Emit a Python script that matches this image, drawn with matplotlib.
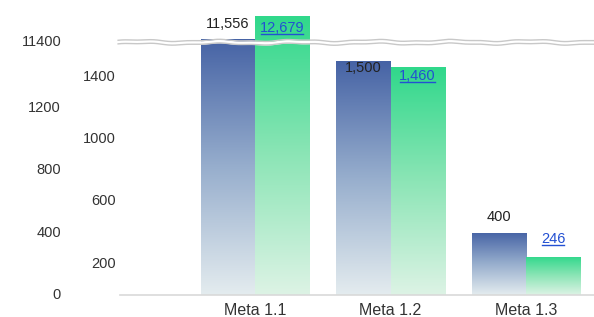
import numpy as np
import matplotlib
matplotlib.use("Agg")
import matplotlib.pyplot as plt
from matplotlib.colors import LinearSegmentedColormap
from matplotlib.lines import Line2D

plt.rcParams['font.family'] = ['Liberation Sans', 'DejaVu Sans']

categories = ["Meta 1.1", "Meta 1.2", "Meta 1.3"]
series_a = [11556, 1500, 400]
series_b = [12679, 1460, 246]
labels_a = ["11,556", "1,500", "400"]
labels_b = ["12,679", "1,460", "246"]
low_ticks = [0, 200, 400, 600, 800, 1000, 1200, 1400]
high_ticks = [11400]

# broken axis: linear up to 1600, squeezed gap, compressed above 11400
xp = [-1e5, 1600, 11400, 1e5]
fp = [-1e5, 1600, 1620, 1620 + (1e5 - 11400) * 0.13]


def forward(v):
    return np.interp(v, xp, fp)


def inverse(v):
    return np.interp(v, fp, xp)


fig = plt.figure(figsize=(5.94, 3.17), dpi=100)
ax = fig.add_axes([120 / 594, 22 / 317, 474 / 594, 295 / 317])
ax.set_yscale('function', functions=(forward, inverse))

x = np.arange(len(categories))
w = 0.4
ylim = (0, inverse(295 / 0.156))
xlim = ((120 - 255) / 135.5, (594 - 255) / 135.5)
ax.set_xlim(*xlim)
ax.set_ylim(*ylim)

bars_a = ax.bar(x - w / 2, series_a, w, color='none', linewidth=0)
bars_b = ax.bar(x + w / 2, series_b, w, color='none', linewidth=0)

to_frac = ax.transScale + ax.transLimits
grad = np.linspace(0, 1, 256).reshape(-1, 1)
cm_a = LinearSegmentedColormap.from_list('a', ['#e4ecef', '#97aecd', '#4663a5'])
cm_b = LinearSegmentedColormap.from_list('b', ['#ddf3e5', '#8ce5b6', '#30d88b'])
for bars, cm in [(bars_a, cm_a), (bars_b, cm_b)]:
    for r in bars:
        x0, y0 = to_frac.transform((r.get_x(), 0))
        x1, y1 = to_frac.transform((r.get_x() + r.get_width(), r.get_height()))
        im = ax.imshow(grad, extent=(x0, x1, y0, y1), origin='lower', cmap=cm,
                       aspect='auto', transform=ax.transAxes, interpolation='bilinear')
        im.set_clip_path(r)
ax.set_xlim(*xlim)
ax.set_ylim(*ylim)

# value labels (offset in pixels from bar top)
off_a = [15, -7, 16]
off_b = [-12, -9, 18]
link_texts = []
for r, lab, off in zip(bars_a, labels_a, off_a):
    ax.annotate(lab, (r.get_x() + r.get_width() / 2, r.get_height()),
                xytext=(0, off), textcoords='offset pixels', ha='center', va='center',
                fontsize=10.5, color='#222222', zorder=6)
for r, lab, off in zip(bars_b, labels_b, off_b):
    t = ax.annotate(lab, (r.get_x() + r.get_width() / 2, r.get_height()),
                    xytext=(0, off), textcoords='offset pixels', ha='center', va='center',
                    fontsize=10.5, color='#2350d2', zorder=6)
    link_texts.append(t)

# y tick labels, staggered in two columns
ax.set_yticks([])
tr = ax.get_yaxis_transform()
for i, v in enumerate(low_ticks):
    xpos = -0.0084 if i % 2 == 1 else -0.1245
    ax.text(xpos, v, str(v), transform=tr, ha='right', va='center',
            fontsize=10.5, color='#333333')
for v in high_ticks:
    ax.text(-0.123, v, str(v), transform=tr, ha='right', va='center',
            fontsize=10.5, color='#333333')

ax.set_xticks(x)
ax.set_xticklabels(categories, fontsize=11.5, color='#333333')
ax.tick_params(axis='x', length=0, pad=6)

for s in ['top', 'right', 'left']:
    ax.spines[s].set_visible(False)
ax.spines['bottom'].set_color('#d9d9d9')
ax.spines['bottom'].set_linewidth(1.2)

# break mark: wavy double line
yc = to_frac.transform((0, 11400))[1]
px = 1 / 295
bx = np.linspace(-0.004, 1.0, 400)
wave = (0.8 * np.sin(bx * 38) + 0.4 * np.sin(bx * 91 + 1.3)) * px
upper = yc + 1.8 * px + wave
lower = yc - 1.8 * px + wave
ax.fill_between(bx, lower, upper, transform=ax.transAxes, color='white',
                zorder=7, clip_on=False, linewidth=0)
ax.plot(bx, upper, transform=ax.transAxes, color='#c8c8c8', lw=1.0, zorder=8, clip_on=False)
ax.plot(bx, lower, transform=ax.transAxes, color='#c8c8c8', lw=1.0, zorder=8, clip_on=False)

# underline for the link-style labels
fig.canvas.draw()
rend = fig.canvas.get_renderer()
for t in link_texts:
    bb = t.get_window_extent(rend)
    y = bb.y0 + 1
    fig.add_artist(Line2D([bb.x0 + 1, bb.x1 - 1], [y, y], transform=None,
                          color='#2350d2', lw=1.0, zorder=9))

fig.savefig("out.png", dpi=100)
